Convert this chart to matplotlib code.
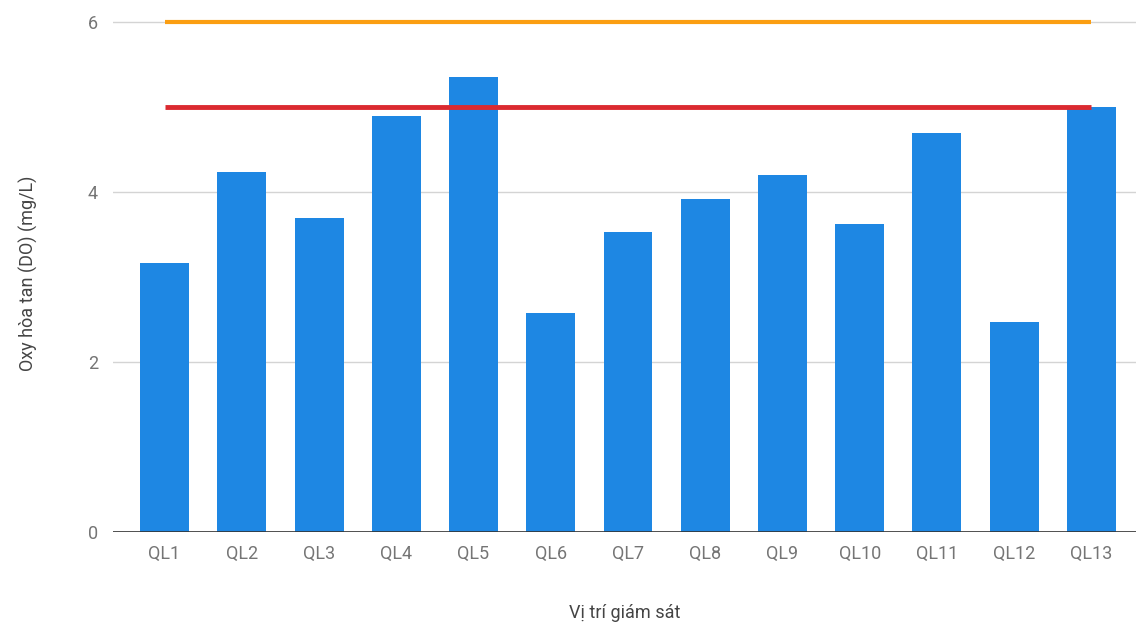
import matplotlib.pyplot as plt

plt.rcParams['font.family'] = ['Roboto', 'DejaVu Sans']

sites = ['QL1', 'QL2', 'QL3', 'QL4', 'QL5', 'QL6', 'QL7', 'QL8', 'QL9', 'QL10', 'QL11', 'QL12', 'QL13']
do_values = [3.17, 4.24, 3.70, 4.90, 5.36, 2.58, 3.53, 3.92, 4.20, 3.62, 4.70, 2.47, 5.00]
limit_a = [6] * len(sites)
limit_b = [5] * len(sites)

fig = plt.figure(figsize=(11.36, 6.24), dpi=100)
ax = fig.add_axes([0.0995, 0.1474, 0.9005, 0.8306])

x = list(range(len(sites)))
ax.bar(x, do_values, width=0.634, color='#1e87e3', zorder=2)
ax.plot(x, limit_a, color='#fb9e12', linewidth=3, zorder=3, solid_capstyle='butt')
ax.plot(x, limit_b, color='#db2a30', linewidth=3.5, zorder=3, solid_capstyle='butt')

ax.set_xlim(-0.667, 12.577)
ax.set_ylim(0, 6.1)
ax.set_yticks([0, 2, 4, 6])
ax.set_xticks(x)
ax.set_xticklabels(sites)
ax.grid(axis='y', color='#d4d4d4', linewidth=1, zorder=0)
ax.axhline(0, color='#333333', linewidth=1.2, zorder=4)
for s in ax.spines.values():
    s.set_visible(False)
ax.tick_params(length=0, labelsize=13, labelcolor='#757575', pad=9)
ax.tick_params(axis='y', pad=11)

ax.set_ylabel('Oxy hòa tan (DO) (mg/L)', fontsize=13, color='#444444', labelpad=36)
ax.set_xlabel('Vị trí giám sát', fontsize=13, color='#444444', labelpad=30)

fig.savefig('out.png', dpi=100)
